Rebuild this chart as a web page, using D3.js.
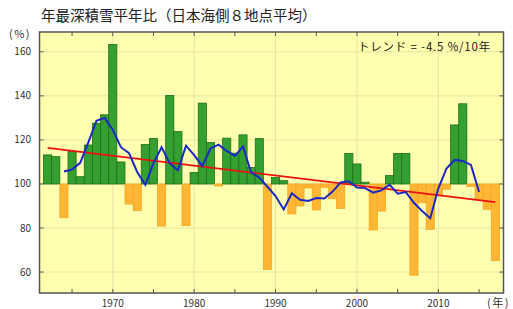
<!DOCTYPE html>
<html>
<head>
<meta charset="utf-8">
<script src="https://cdn.jsdelivr.net/npm/d3@7"></script>
<style>
  body { margin: 0; background: #fff; }
  svg { display: block; font-family: "Noto Sans CJK JP", "Noto Sans", sans-serif; }
</style>
</head>
<body>
<svg id="chart" width="513" height="309"></svg>
<script>
// 年最深積雪平年比 (%) 1962-2017
const years = d3.range(1962, 2018);
const ratio = [
  113.2, 112.4, 84.7, 114.7, 103.3, 117.7, 127.6, 131.4, 163.3, 110.0,
  90.9, 87.9, 117.9, 120.6, 80.9, 140.2, 123.8, 81.1, 105.2, 136.7,
  118.8, 99.1, 120.8, 114.0, 122.3, 107.5, 120.6, 61.2, 102.9, 101.5,
  86.4, 90.0, 98.2, 88.2, 98.5, 93.3, 88.9, 113.9, 109.1, 100.8,
  79.1, 87.7, 103.8, 113.9, 113.9, 58.6, 91.5, 79.4, 95.0, 97.6,
  126.8, 136.4, 98.8, 92.7, 88.5, 65.2
];
const yTicks = [60, 80, 100, 120, 140, 160];
const xLabels = [1970, 1980, 1990, 2000, 2010];
const xMinor = [1965, 1970, 1975, 1980, 1985, 1990, 1995, 2000, 2005, 2010, 2015];

const svg = d3.select("#chart");
const plotL = 39.5, plotR = 503.5, plotT = 32, plotB = 293;

const x = d3.scaleLinear().domain([1961, 2018]).range([plotL, plotR]);
const y = d3.scaleLinear().domain([50.5, 169]).range([plotB, plotT]);

const data = years.map((yr, i) => ({year: yr, value: ratio[i]}));

// 5-year running mean
const runMean = [];
for (let i = 2; i < data.length - 2; i++) {
  runMean.push({year: data[i].year, value: d3.mean(data.slice(i - 2, i + 3), d => d.value)});
}

// linear trend
const mx = d3.mean(years), my = d3.mean(ratio);
const slope = d3.sum(data, d => (d.year - mx) * (d.value - my)) / d3.sum(data, d => (d.year - mx) ** 2);
const trend = yr => my + slope * (yr - mx);

// plot background
svg.append("rect")
  .attr("x", plotL).attr("y", plotT)
  .attr("width", plotR - plotL).attr("height", plotB - plotT)
  .attr("fill", "#ffffb0");

// grid
svg.append("g").selectAll("line").data(yTicks).join("line")
  .attr("x1", plotL).attr("x2", plotR)
  .attr("y1", d => y(d)).attr("y2", d => y(d))
  .attr("stroke", "#e4e4a4").attr("stroke-width", 1);
svg.append("g").selectAll("line").data(xLabels).join("line")
  .attr("x1", d => x(d)).attr("x2", d => x(d))
  .attr("y1", plotT).attr("y2", plotB)
  .attr("stroke", "#e4e4a4").attr("stroke-width", 1);

// bars
svg.append("g").selectAll("rect").data(data).join("rect")
  .attr("x", d => x(d.year - 0.5))
  .attr("width", d => x(d.year + 0.5) - x(d.year - 0.5))
  .attr("y", d => y(Math.max(d.value, 100)))
  .attr("height", d => Math.abs(y(d.value) - y(100)))
  .attr("fill", d => d.value >= 100 ? "#35a02f" : "#ffb634")
  .attr("stroke", d => d.value >= 100 ? "#1d6e1d" : "#f5a623")
  .attr("stroke-width", 0.8);

// trend line
svg.append("line")
  .attr("x1", x(1962)).attr("y1", y(trend(1962)))
  .attr("x2", x(2017)).attr("y2", y(trend(2017)))
  .attr("stroke", "#ee1111").attr("stroke-width", 1.6);

// running mean
svg.append("path")
  .datum(runMean)
  .attr("fill", "none")
  .attr("stroke", "#1a28c8")
  .attr("stroke-width", 2)
  .attr("d", d3.line().x(d => x(d.year)).y(d => y(d.value)));

// frame
svg.append("rect")
  .attr("x", plotL).attr("y", plotT)
  .attr("width", plotR - plotL).attr("height", plotB - plotT)
  .attr("fill", "none").attr("stroke", "#555").attr("stroke-width", 1.5);

// ticks (inward, all sides)
const tk = 4;
const ticks = svg.append("g").attr("stroke", "#555").attr("stroke-width", 1);
ticks.selectAll(".tb").data(xMinor).join("line").attr("class", "tb")
  .attr("x1", d => x(d)).attr("x2", d => x(d)).attr("y1", plotB).attr("y2", plotB - tk);
ticks.selectAll(".tt").data(xMinor).join("line").attr("class", "tt")
  .attr("x1", d => x(d)).attr("x2", d => x(d)).attr("y1", plotT).attr("y2", plotT + tk);
ticks.selectAll(".tl").data(yTicks).join("line").attr("class", "tl")
  .attr("x1", plotL).attr("x2", plotL + tk).attr("y1", d => y(d)).attr("y2", d => y(d));
ticks.selectAll(".tr").data(yTicks).join("line").attr("class", "tr")
  .attr("x1", plotR).attr("x2", plotR - tk).attr("y1", d => y(d)).attr("y2", d => y(d));

// labels
svg.append("g").selectAll("text").data(yTicks).join("text")
  .attr("x", 31).attr("y", d => y(d) + 3.5)
  .attr("text-anchor", "end").attr("font-size", 10).attr("fill", "#333")
  .text(d => d);
svg.append("g").selectAll("text").data(xLabels).join("text")
  .attr("x", d => x(d)).attr("y", 307)
  .attr("text-anchor", "middle").attr("font-size", 10).attr("fill", "#333")
  .text(d => d);

svg.append("text").attr("x", 9).attr("y", 38).attr("font-size", 11)
  .attr("letter-spacing", 1.5).attr("fill", "#333").text("(%)");
svg.append("text").attr("x", 487).attr("y", 307).attr("font-size", 11)
  .attr("letter-spacing", 1.5).attr("fill", "#333").text("(年)");

svg.append("text").attr("x", 41).attr("y", 21)
  .attr("font-size", 14.5).attr("fill", "#222")
  .text("年最深積雪平年比（日本海側８地点平均）");

svg.append("text").attr("x", 491).attr("y", 51)
  .attr("text-anchor", "end").attr("font-size", 11.5)
  .attr("letter-spacing", 0.8).attr("fill", "#222")
  .text("トレンド = -4.5 %/10年");
</script>
</body>
</html>
